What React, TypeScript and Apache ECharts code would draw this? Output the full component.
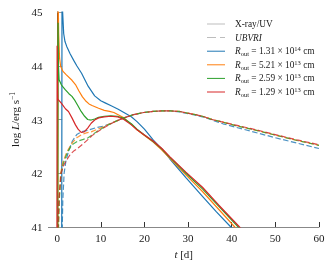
import React, { useEffect, useRef } from 'react';
import * as echarts from 'echarts';

// ---- data (t in days, log L) ----
const xTicks = [0, 10, 20, 30, 40, 50, 60];
const yTicks = [41, 42, 43, 44, 45];

const seriesColors = ['#1f77b4', '#ff7f0e', '#2ca02c', '#d62728'];
const radiusMantissa = ['1.31', '5.21', '2.59', '1.29'];
const radiusExponent = ['14', '13', '13', '13'];
const radiusNames = ['R1', 'R2', 'R3', 'R4'];

// X-ray/UV (solid)
const xrayBlue: [number, number][] = [
  [1.05, 40.5], [1.12, 45.6], [1.26, 45.0], [1.5, 44.6], [1.8, 44.45], [2.2, 44.36], [3.0, 44.22],
  [3.8, 44.1], [4.5, 44.0], [5.6, 43.86], [7.1, 43.62], [8.6, 43.44], [10.0, 43.35], [11.0, 43.31],
  [12.5, 43.25], [14.0, 43.19], [15.3, 43.13], [17.0, 43.05], [18.3, 42.96], [20.0, 42.82],
  [22.0, 42.62], [24.0, 42.45], [25.8, 42.27], [29.5, 41.92], [33.3, 41.57], [36.5, 41.28],
  [39.8, 41.0], [41.0, 40.89],
];
const xrayOrange: [number, number][] = [
  [0.15, 40.5], [0.2, 45.5], [0.35, 44.6], [0.55, 44.15], [0.8, 43.99], [1.3, 43.9], [2.0, 43.84],
  [3.4, 43.73], [4.2, 43.65], [5.0, 43.53], [5.8, 43.42], [6.5, 43.35], [7.3, 43.29], [8.0, 43.26],
  [9.5, 43.21], [10.8, 43.17], [12.0, 43.15], [13.0, 43.13], [14.2, 43.08], [15.3, 43.03],
  [17.0, 42.91], [18.3, 42.81], [20.0, 42.7], [22.0, 42.58], [24.0, 42.43], [25.8, 42.28],
  [29.5, 41.97], [33.3, 41.66], [37.0, 41.33], [40.7, 41.0], [42.0, 40.89],
];
const xrayGreen: [number, number][] = [
  [0.15, 40.5], [0.22, 44.8], [0.3, 44.0], [0.45, 43.74], [1.0, 43.64], [1.9, 43.55], [2.7, 43.48],
  [3.4, 43.43], [4.1, 43.35], [4.8, 43.25], [5.5, 43.15], [6.3, 43.06], [7.0, 43.0], [7.8, 42.99],
  [8.6, 43.01], [9.5, 43.04], [10.8, 43.06], [12.3, 43.07], [13.8, 43.06], [15.3, 43.02],
  [17.0, 42.92], [18.3, 42.82], [20.0, 42.71], [22.0, 42.59], [24.0, 42.45], [25.8, 42.3],
  [29.5, 42.0], [33.3, 41.71], [37.0, 41.39], [41.5, 41.0], [43.0, 40.87],
];
const xrayRed: [number, number][] = [
  [-0.05, 40.5], [0.0, 44.37], [0.08, 43.6], [0.15, 43.38], [1.0, 43.3], [1.9, 43.2], [2.6, 43.15],
  [3.4, 43.03], [4.2, 42.9], [4.8, 42.82], [5.5, 42.76], [6.2, 42.77], [7.0, 42.84], [7.8, 42.93],
  [8.6, 42.99], [9.5, 43.03], [10.8, 43.05], [12.3, 43.06], [13.8, 43.05], [15.3, 43.0],
  [17.0, 42.9], [18.3, 42.81], [20.0, 42.71], [22.0, 42.6], [24.0, 42.46], [25.8, 42.31],
  [29.5, 42.02], [33.3, 41.74], [37.0, 41.41], [41.8, 41.0], [43.0, 40.9],
];

// UBVRI (dashed)
const optBlue: [number, number][] = [
  [1.05, 40.5], [1.3, 41.5], [1.6, 42.0], [2.0, 42.22], [2.6, 42.41], [3.5, 42.6], [4.5, 42.72],
  [5.5, 42.77], [7.1, 42.8], [9.0, 42.85], [10.8, 42.88], [12.3, 42.93], [13.8, 42.98], [15.3, 43.03],
  [17.5, 43.09], [19.8, 43.13], [22.0, 43.15], [24.0, 43.16], [26.0, 43.16], [28.0, 43.14],
  [31.7, 43.08], [33.3, 43.05], [35.5, 42.99], [38.0, 42.92], [40.7, 42.86], [44.5, 42.78],
  [50.0, 42.66], [55.0, 42.56], [60.0, 42.46],
];
const optOrange: [number, number][] = [
  [0.15, 40.5], [0.45, 41.5], [0.8, 42.0], [1.3, 42.2], [2.0, 42.35], [2.6, 42.45], [3.5, 42.57],
  [4.5, 42.66], [5.6, 42.72], [6.7, 42.75], [7.8, 42.77], [9.0, 42.81], [10.8, 42.87], [12.3, 42.93],
  [13.8, 42.98], [15.3, 43.03], [17.5, 43.09], [19.8, 43.13], [22.0, 43.15], [24.0, 43.16],
  [26.0, 43.16], [28.0, 43.15], [31.7, 43.09], [33.3, 43.06], [35.5, 43.0], [38.0, 42.95],
  [40.7, 42.89], [44.5, 42.82], [50.0, 42.71], [55.0, 42.61], [60.0, 42.52],
];
const optGreen: [number, number][] = [
  [0.15, 40.5], [0.5, 41.5], [0.9, 42.0], [1.5, 42.2], [2.3, 42.38], [3.4, 42.53], [4.8, 42.6],
  [6.0, 42.63], [7.1, 42.66], [8.0, 42.71], [9.0, 42.77], [10.8, 42.86], [12.3, 42.92], [13.8, 42.98],
  [15.3, 43.03], [17.5, 43.09], [19.8, 43.13], [22.0, 43.15], [24.0, 43.16], [26.0, 43.16],
  [28.0, 43.15], [31.7, 43.09], [33.3, 43.06], [35.5, 43.0], [38.0, 42.95], [40.7, 42.89],
  [44.5, 42.82], [50.0, 42.71], [55.0, 42.61], [60.0, 42.52],
];
const optRed: [number, number][] = [
  [-0.05, 40.5], [0.4, 41.5], [0.9, 42.0], [1.5, 42.15], [2.2, 42.25], [3.0, 42.35], [3.9, 42.42],
  [4.8, 42.47], [6.0, 42.55], [7.1, 42.63], [8.0, 42.7], [9.0, 42.76], [10.8, 42.85], [12.3, 42.92],
  [13.8, 42.98], [15.3, 43.03], [17.5, 43.09], [19.8, 43.13], [22.0, 43.15], [24.0, 43.16],
  [26.0, 43.16], [28.0, 43.15], [31.7, 43.09], [33.3, 43.06], [35.5, 43.0], [38.0, 42.95],
  [40.7, 42.9], [44.5, 42.83], [50.0, 42.72], [55.0, 42.62], [60.0, 42.53],
];

const xraySets = [xrayBlue, xrayOrange, xrayGreen, xrayRed];
const optSets = [optBlue, optOrange, optGreen, optRed];

const FONT = "'Liberation Serif', 'DejaVu Serif', 'Times New Roman', serif";
const TXT = '#1a1a1a';
const DASH = [5.5, 2.5];
const SOLID_ICON = 'path://M0,0h18v1h-18z';
const DASH_ICON = 'path://M0,0h9v1h-9z M13,0h5v1h-5z';

export default function App() {
  const ref = useRef<HTMLDivElement>(null);
  useEffect(() => {
    if (!ref.current) return;
    const chart = echarts.init(ref.current, null, { renderer: 'svg' });

    const lf = 9.3;
    const legendRich = {
      n: { fontFamily: FONT, fontSize: lf, lineHeight: 12, color: TXT },
      it: { fontFamily: FONT, fontSize: lf, fontStyle: 'italic', lineHeight: 12, color: TXT },
      sub: { fontFamily: FONT, fontSize: 6.5, lineHeight: 12, verticalAlign: 'bottom', color: TXT },
      sup: { fontFamily: FONT, fontSize: 6.5, lineHeight: 12, verticalAlign: 'top', color: TXT },
    };
    const legendText: Record<string, string> = {
      'X-ray/UV': '{n|X-ray/UV}',
      UBVRI: '{it|UBVRI}',
    };
    radiusNames.forEach((nm, i) => {
      legendText[nm] = `{it|R}{sub|out}{n| = ${radiusMantissa[i]} × 10}{sup|${radiusExponent[i]}}{n| cm}`;
    });

    const af = 11;
    const axisRich = {
      n: { fontFamily: FONT, fontSize: af, lineHeight: 14, color: TXT },
      it: { fontFamily: FONT, fontSize: af, fontStyle: 'italic', lineHeight: 14, color: TXT },
      sup: { fontFamily: FONT, fontSize: 7.5, lineHeight: 14, verticalAlign: 'top', color: TXT },
    };

    const series: any[] = [
      {
        name: 'X-ray/UV', type: 'line', data: [], symbol: 'none',
        lineStyle: { color: '#bdbdbd', width: 1.3 }, itemStyle: { color: '#bdbdbd' },
      },
      {
        name: 'UBVRI', type: 'line', data: [], symbol: 'none',
        lineStyle: { color: '#bdbdbd', width: 1.3, type: DASH }, itemStyle: { color: '#bdbdbd' },
      },
    ];
    radiusNames.forEach((nm, i) => {
      series.push({
        name: nm, type: 'line', data: xraySets[i], symbol: 'none', clip: true,
        lineStyle: { color: seriesColors[i], width: 1.2 }, itemStyle: { color: seriesColors[i] },
      });
      series.push({
        name: nm + ' UBVRI', type: 'line', data: optSets[i], symbol: 'none', clip: true,
        lineStyle: { color: seriesColors[i], width: 1.2, type: DASH, opacity: 0.8 },
        itemStyle: { color: seriesColors[i] },
      });
    });

    const legendData = [
      { name: 'X-ray/UV', icon: SOLID_ICON },
      { name: 'UBVRI', icon: DASH_ICON },
      ...radiusNames.map((nm) => ({ name: nm, icon: SOLID_ICON })),
    ];

    chart.setOption({
      animation: false,
      grid: { left: 43, right: 13, top: 12, bottom: 40 },
      legend: {
        data: legendData,
        orient: 'vertical',
        left: 202,
        top: 13,
        itemWidth: 18,
        itemHeight: 1.3,
        itemGap: 1.6,
        formatter: (name: string) => legendText[name] || name,
        textStyle: {
          fontFamily: FONT, fontSize: lf, color: TXT, lineHeight: 12, height: 12,
          padding: [0, 0, 0, 5], rich: legendRich,
        },
        selectedMode: false,
      },
      xAxis: {
        type: 'value', min: -2, max: 60,
        axisLine: { show: true, lineStyle: { color: '#888', width: 1 } },
        axisTick: { show: true, inside: true, length: 5, customValues: xTicks, lineStyle: { color: '#333', width: 1 } },
        axisLabel: { customValues: xTicks, margin: 5, fontSize: af, fontFamily: FONT, color: TXT },
        splitLine: { show: false },
        name: '{it|t}{n| [d]}',
        nameLocation: 'middle',
        nameGap: 20,
        nameTextStyle: { rich: axisRich },
      },
      yAxis: {
        type: 'value', min: 41, max: 45, interval: 1,
        axisLine: { show: true, lineStyle: { color: '#333', width: 1 } },
        axisTick: { show: true, inside: true, length: 5, customValues: yTicks, lineStyle: { color: '#999', width: 1 } },
        axisLabel: { customValues: yTicks, margin: 6, fontSize: af, fontFamily: FONT, color: TXT },
        splitLine: { show: false },
        name: '{n|log }{it|L}{n|/erg s}{sup|−1}',
        nameLocation: 'middle',
        nameRotate: 90,
        nameGap: 24,
        nameTextStyle: { rich: axisRich },
      },
      series,
    });
    return () => chart.dispose();
  }, []);
  return <div ref={ref} style={{ position: 'fixed', left: 0, top: 0, width: 332, height: 267 }} />;
}
